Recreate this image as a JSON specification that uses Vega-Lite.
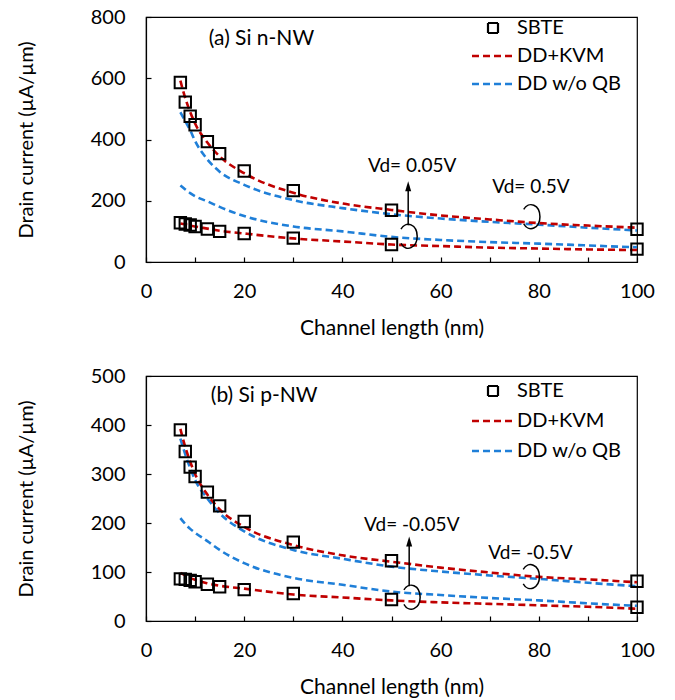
{
  "$schema": "https://vega.github.io/schema/vega-lite/v6.json",
  "padding": {"left": 15, "top": 6, "right": 5, "bottom": 0},
  "spacing": 26,
  "config": {
    "font": "Lato",
    "view": {"stroke": "black", "strokeWidth": 1.2},
    "axis": {"grid": false, "domainColor": "black", "domainWidth": 1.2, "tickColor": "black", "tickWidth": 1.2, "tickSize": -5, "labelFont": "Lato", "labelFontSize": 20, "labelColor": "black", "labelFlush": false, "labelOverlap": false, "titleFont": "Lato", "titleFontWeight": "normal", "titleColor": "black"},
    "axisX": {"labelPadding": 24, "titlePadding": 16, "titleFontSize": 21},
    "axisY": {"labelPadding": 26, "titlePadding": 54, "titleFontSize": 20},
    "legend": {"padding": 0}
  },
  "resolve": {"scale": {"color": "independent"}, "legend": {"color": "independent"}},
  "datasets": {
    "a_pts": [
      {"L": 7, "I": 586, "series": "SBTE", "vd": "0.5"}, {"L": 8, "I": 522, "series": "SBTE", "vd": "0.5"}, {"L": 9, "I": 476, "series": "SBTE", "vd": "0.5"}, {"L": 10, "I": 448, "series": "SBTE", "vd": "0.5"}, {"L": 12.5, "I": 393, "series": "SBTE", "vd": "0.5"}, {"L": 15, "I": 354, "series": "SBTE", "vd": "0.5"}, {"L": 20, "I": 297, "series": "SBTE", "vd": "0.5"}, {"L": 30, "I": 233, "series": "SBTE", "vd": "0.5"}, {"L": 50, "I": 169, "series": "SBTE", "vd": "0.5"}, {"L": 100, "I": 107, "series": "SBTE", "vd": "0.5"},
      {"L": 7, "I": 128, "series": "SBTE", "vd": "0.05"}, {"L": 8, "I": 124, "series": "SBTE", "vd": "0.05"}, {"L": 9, "I": 121, "series": "SBTE", "vd": "0.05"}, {"L": 10, "I": 116, "series": "SBTE", "vd": "0.05"}, {"L": 12.5, "I": 108, "series": "SBTE", "vd": "0.05"}, {"L": 15, "I": 100, "series": "SBTE", "vd": "0.05"}, {"L": 20, "I": 93, "series": "SBTE", "vd": "0.05"}, {"L": 30, "I": 78, "series": "SBTE", "vd": "0.05"}, {"L": 50, "I": 57, "series": "SBTE", "vd": "0.05"}, {"L": 100, "I": 42, "series": "SBTE", "vd": "0.05"}
    ],
    "a_lines": [
      {"L": 7, "I": 489, "series": "DD w/o QB", "vd": "0.5"}, {"L": 8, "I": 460, "series": "DD w/o QB", "vd": "0.5"}, {"L": 9, "I": 430, "series": "DD w/o QB", "vd": "0.5"}, {"L": 10, "I": 395, "series": "DD w/o QB", "vd": "0.5"}, {"L": 12.5, "I": 335, "series": "DD w/o QB", "vd": "0.5"}, {"L": 15, "I": 295, "series": "DD w/o QB", "vd": "0.5"}, {"L": 20, "I": 252, "series": "DD w/o QB", "vd": "0.5"}, {"L": 30, "I": 202, "series": "DD w/o QB", "vd": "0.5"}, {"L": 40, "I": 176, "series": "DD w/o QB", "vd": "0.5"}, {"L": 50, "I": 156, "series": "DD w/o QB", "vd": "0.5"}, {"L": 60, "I": 142, "series": "DD w/o QB", "vd": "0.5"}, {"L": 70, "I": 131, "series": "DD w/o QB", "vd": "0.5"}, {"L": 80, "I": 122, "series": "DD w/o QB", "vd": "0.5"}, {"L": 90, "I": 112, "series": "DD w/o QB", "vd": "0.5"}, {"L": 100, "I": 103, "series": "DD w/o QB", "vd": "0.5"},
      {"L": 7, "I": 250, "series": "DD w/o QB", "vd": "0.05"}, {"L": 8, "I": 237, "series": "DD w/o QB", "vd": "0.05"}, {"L": 9, "I": 225, "series": "DD w/o QB", "vd": "0.05"}, {"L": 10, "I": 215, "series": "DD w/o QB", "vd": "0.05"}, {"L": 12.5, "I": 198, "series": "DD w/o QB", "vd": "0.05"}, {"L": 15, "I": 180, "series": "DD w/o QB", "vd": "0.05"}, {"L": 20, "I": 150, "series": "DD w/o QB", "vd": "0.05"}, {"L": 30, "I": 116, "series": "DD w/o QB", "vd": "0.05"}, {"L": 40, "I": 100, "series": "DD w/o QB", "vd": "0.05"}, {"L": 50, "I": 82, "series": "DD w/o QB", "vd": "0.05"}, {"L": 60, "I": 72, "series": "DD w/o QB", "vd": "0.05"}, {"L": 70, "I": 65, "series": "DD w/o QB", "vd": "0.05"}, {"L": 80, "I": 60, "series": "DD w/o QB", "vd": "0.05"}, {"L": 90, "I": 54, "series": "DD w/o QB", "vd": "0.05"}, {"L": 100, "I": 48, "series": "DD w/o QB", "vd": "0.05"},
      {"L": 7, "I": 592, "series": "DD+KVM", "vd": "0.5"}, {"L": 8, "I": 535, "series": "DD+KVM", "vd": "0.5"}, {"L": 9, "I": 490, "series": "DD+KVM", "vd": "0.5"}, {"L": 10, "I": 452, "series": "DD+KVM", "vd": "0.5"}, {"L": 12.5, "I": 390, "series": "DD+KVM", "vd": "0.5"}, {"L": 15, "I": 345, "series": "DD+KVM", "vd": "0.5"}, {"L": 20, "I": 290, "series": "DD+KVM", "vd": "0.5"}, {"L": 30, "I": 226, "series": "DD+KVM", "vd": "0.5"}, {"L": 40, "I": 191, "series": "DD+KVM", "vd": "0.5"}, {"L": 50, "I": 170, "series": "DD+KVM", "vd": "0.5"}, {"L": 60, "I": 152, "series": "DD+KVM", "vd": "0.5"}, {"L": 70, "I": 139, "series": "DD+KVM", "vd": "0.5"}, {"L": 80, "I": 127, "series": "DD+KVM", "vd": "0.5"}, {"L": 90, "I": 119, "series": "DD+KVM", "vd": "0.5"}, {"L": 100, "I": 112, "series": "DD+KVM", "vd": "0.5"},
      {"L": 7, "I": 126, "series": "DD+KVM", "vd": "0.05"}, {"L": 8, "I": 123, "series": "DD+KVM", "vd": "0.05"}, {"L": 9, "I": 119, "series": "DD+KVM", "vd": "0.05"}, {"L": 10, "I": 116, "series": "DD+KVM", "vd": "0.05"}, {"L": 12.5, "I": 109, "series": "DD+KVM", "vd": "0.05"}, {"L": 15, "I": 102, "series": "DD+KVM", "vd": "0.05"}, {"L": 20, "I": 93, "series": "DD+KVM", "vd": "0.05"}, {"L": 30, "I": 77, "series": "DD+KVM", "vd": "0.05"}, {"L": 40, "I": 67, "series": "DD+KVM", "vd": "0.05"}, {"L": 50, "I": 57, "series": "DD+KVM", "vd": "0.05"}, {"L": 60, "I": 52, "series": "DD+KVM", "vd": "0.05"}, {"L": 70, "I": 47, "series": "DD+KVM", "vd": "0.05"}, {"L": 80, "I": 44, "series": "DD+KVM", "vd": "0.05"}, {"L": 90, "I": 41, "series": "DD+KVM", "vd": "0.05"}, {"L": 100, "I": 39, "series": "DD+KVM", "vd": "0.05"}
    ],
    "a_title": [{"L": 12.8, "I": 728, "label": "(a) Si n-NW"}],
    "a_text": [
      {"L": 45.2, "I": 315, "label": "Vd= 0.05V"},
      {"L": 70.5, "I": 245, "label": "Vd= 0.5V"}
    ],
    "a_arrow": [{"L": 53.4, "I": 120, "I2": 247}],
    "a_head": [{"L": 53.4, "I": 247}],
    "a_arcs": [{"L": 53.4, "I": 84}, {"L": 78.4, "I": 148}],
    "b_pts": [
      {"L": 7, "I": 390, "series": "SBTE", "vd": "-0.5"}, {"L": 8, "I": 346, "series": "SBTE", "vd": "-0.5"}, {"L": 9, "I": 314, "series": "SBTE", "vd": "-0.5"}, {"L": 10, "I": 295, "series": "SBTE", "vd": "-0.5"}, {"L": 12.5, "I": 263, "series": "SBTE", "vd": "-0.5"}, {"L": 15, "I": 235, "series": "SBTE", "vd": "-0.5"}, {"L": 20, "I": 203, "series": "SBTE", "vd": "-0.5"}, {"L": 30, "I": 161, "series": "SBTE", "vd": "-0.5"}, {"L": 50, "I": 123, "series": "SBTE", "vd": "-0.5"}, {"L": 100, "I": 81, "series": "SBTE", "vd": "-0.5"},
      {"L": 7, "I": 86, "series": "SBTE", "vd": "-0.05"}, {"L": 8, "I": 85, "series": "SBTE", "vd": "-0.05"}, {"L": 9, "I": 83, "series": "SBTE", "vd": "-0.05"}, {"L": 10, "I": 80, "series": "SBTE", "vd": "-0.05"}, {"L": 12.5, "I": 75, "series": "SBTE", "vd": "-0.05"}, {"L": 15, "I": 70, "series": "SBTE", "vd": "-0.05"}, {"L": 20, "I": 64, "series": "SBTE", "vd": "-0.05"}, {"L": 30, "I": 56, "series": "SBTE", "vd": "-0.05"}, {"L": 50, "I": 44, "series": "SBTE", "vd": "-0.05"}, {"L": 100, "I": 28, "series": "SBTE", "vd": "-0.05"}
    ],
    "b_lines": [
      {"L": 7, "I": 372, "series": "DD w/o QB", "vd": "-0.5"}, {"L": 8, "I": 340, "series": "DD w/o QB", "vd": "-0.5"}, {"L": 9, "I": 312, "series": "DD w/o QB", "vd": "-0.5"}, {"L": 10, "I": 288, "series": "DD w/o QB", "vd": "-0.5"}, {"L": 12.5, "I": 250, "series": "DD w/o QB", "vd": "-0.5"}, {"L": 15, "I": 220, "series": "DD w/o QB", "vd": "-0.5"}, {"L": 20, "I": 183, "series": "DD w/o QB", "vd": "-0.5"}, {"L": 30, "I": 145, "series": "DD w/o QB", "vd": "-0.5"}, {"L": 40, "I": 127, "series": "DD w/o QB", "vd": "-0.5"}, {"L": 50, "I": 111, "series": "DD w/o QB", "vd": "-0.5"}, {"L": 60, "I": 101, "series": "DD w/o QB", "vd": "-0.5"}, {"L": 70, "I": 93, "series": "DD w/o QB", "vd": "-0.5"}, {"L": 80, "I": 86, "series": "DD w/o QB", "vd": "-0.5"}, {"L": 90, "I": 78, "series": "DD w/o QB", "vd": "-0.5"}, {"L": 100, "I": 71, "series": "DD w/o QB", "vd": "-0.5"},
      {"L": 7, "I": 210, "series": "DD w/o QB", "vd": "-0.05"}, {"L": 8, "I": 198, "series": "DD w/o QB", "vd": "-0.05"}, {"L": 9, "I": 188, "series": "DD w/o QB", "vd": "-0.05"}, {"L": 10, "I": 180, "series": "DD w/o QB", "vd": "-0.05"}, {"L": 12.5, "I": 163, "series": "DD w/o QB", "vd": "-0.05"}, {"L": 15, "I": 145, "series": "DD w/o QB", "vd": "-0.05"}, {"L": 20, "I": 118, "series": "DD w/o QB", "vd": "-0.05"}, {"L": 30, "I": 88, "series": "DD w/o QB", "vd": "-0.05"}, {"L": 40, "I": 74, "series": "DD w/o QB", "vd": "-0.05"}, {"L": 50, "I": 60, "series": "DD w/o QB", "vd": "-0.05"}, {"L": 60, "I": 53, "series": "DD w/o QB", "vd": "-0.05"}, {"L": 70, "I": 47, "series": "DD w/o QB", "vd": "-0.05"}, {"L": 80, "I": 42, "series": "DD w/o QB", "vd": "-0.05"}, {"L": 90, "I": 36, "series": "DD w/o QB", "vd": "-0.05"}, {"L": 100, "I": 31, "series": "DD w/o QB", "vd": "-0.05"},
      {"L": 7, "I": 392, "series": "DD+KVM", "vd": "-0.5"}, {"L": 8, "I": 355, "series": "DD+KVM", "vd": "-0.5"}, {"L": 9, "I": 325, "series": "DD+KVM", "vd": "-0.5"}, {"L": 10, "I": 300, "series": "DD+KVM", "vd": "-0.5"}, {"L": 12.5, "I": 258, "series": "DD+KVM", "vd": "-0.5"}, {"L": 15, "I": 228, "series": "DD+KVM", "vd": "-0.5"}, {"L": 20, "I": 192, "series": "DD+KVM", "vd": "-0.5"}, {"L": 30, "I": 155, "series": "DD+KVM", "vd": "-0.5"}, {"L": 40, "I": 134, "series": "DD+KVM", "vd": "-0.5"}, {"L": 50, "I": 121, "series": "DD+KVM", "vd": "-0.5"}, {"L": 60, "I": 109, "series": "DD+KVM", "vd": "-0.5"}, {"L": 70, "I": 99, "series": "DD+KVM", "vd": "-0.5"}, {"L": 80, "I": 90, "series": "DD+KVM", "vd": "-0.5"}, {"L": 90, "I": 85, "series": "DD+KVM", "vd": "-0.5"}, {"L": 100, "I": 79, "series": "DD+KVM", "vd": "-0.5"},
      {"L": 7, "I": 98, "series": "DD+KVM", "vd": "-0.05"}, {"L": 8, "I": 93, "series": "DD+KVM", "vd": "-0.05"}, {"L": 9, "I": 88, "series": "DD+KVM", "vd": "-0.05"}, {"L": 10, "I": 84, "series": "DD+KVM", "vd": "-0.05"}, {"L": 12.5, "I": 77, "series": "DD+KVM", "vd": "-0.05"}, {"L": 15, "I": 72, "series": "DD+KVM", "vd": "-0.05"}, {"L": 20, "I": 66, "series": "DD+KVM", "vd": "-0.05"}, {"L": 30, "I": 54, "series": "DD+KVM", "vd": "-0.05"}, {"L": 40, "I": 48, "series": "DD+KVM", "vd": "-0.05"}, {"L": 50, "I": 42, "series": "DD+KVM", "vd": "-0.05"}, {"L": 60, "I": 38, "series": "DD+KVM", "vd": "-0.05"}, {"L": 70, "I": 35, "series": "DD+KVM", "vd": "-0.05"}, {"L": 80, "I": 32, "series": "DD+KVM", "vd": "-0.05"}, {"L": 90, "I": 29, "series": "DD+KVM", "vd": "-0.05"}, {"L": 100, "I": 25, "series": "DD+KVM", "vd": "-0.05"}
    ],
    "b_title": [{"L": 13.2, "I": 459, "label": "(b) Si p-NW"}],
    "b_text": [
      {"L": 44.4, "I": 196, "label": "Vd= -0.05V"},
      {"L": 69.7, "I": 138, "label": "Vd= -0.5V"}
    ],
    "b_arrow": [{"L": 53.6, "I": 71, "I2": 162}],
    "b_head": [{"L": 53.6, "I": 162}],
    "b_arcs": [{"L": 54, "I": 48.6}, {"L": 78.3, "I": 90.6}]
  },
  "vconcat": [
    {
      "width": 491, "height": 245,
      "layer": [
        {
          "data": {"name": "a_lines"},
          "mark": {"type": "line", "strokeDash": [7, 4], "strokeWidth": 2.6, "interpolate": "monotone"},
          "encoding": {
            "x": {"field": "L", "type": "quantitative", "scale": {"domain": [0, 100], "nice": false}, "axis": {"title": "Channel length (nm)", "values": [0,10,20,30,40,50,60,70,80,90,100], "labelExpr": "datum.value % 20 === 0 ? datum.label : ''"}},
            "y": {"field": "I", "type": "quantitative", "scale": {"domain": [0, 800], "nice": false}, "axis": {"title": "Drain current (µA/µm)", "values": [0,100,200,300,400,500,600,700,800], "labelExpr": "datum.value % 200 === 0 ? datum.label : ''"}},
            "color": {"field": "series", "type": "nominal", "scale": {"domain": ["SBTE", "DD+KVM", "DD w/o QB"], "range": ["black", "#c00000", "#1f7fd8"]},
              "legend": {"title": null, "orient": "none", "legendX": 326, "legendY": 1, "labelFontSize": 20, "labelFont": "Lato", "labelColor": "black", "symbolSize": 1764, "symbolType": "stroke", "symbolStrokeWidth": 2.6, "symbolDash": [7, 4], "labelOffset": 3, "rowPadding": 8,
                "encode": {
                  "symbols": {"update": {"x": {"value": 21}, "shape": {"signal": "datum.value === 'SBTE' ? 'square' : 'stroke'"}, "size": {"signal": "datum.value === 'SBTE' ? 100 : 1764"}, "strokeDash": {"signal": "datum.value === 'SBTE' ? [1,0] : [7,4]"}, "strokeWidth": {"signal": "datum.value === 'SBTE' ? 2.2 : 2.6"}}},
                  "labels": {"update": {"x": {"value": 45}}}
                }}},
            "detail": {"field": "vd"}
          }
        },
        {
          "data": {"name": "a_pts"},
          "mark": {"type": "point", "shape": "square", "filled": false, "size": 130, "strokeWidth": 2, "opacity": 1},
          "encoding": {
            "x": {"field": "L", "type": "quantitative"},
            "y": {"field": "I", "type": "quantitative"},
            "color": {"field": "series", "type": "nominal"}
          }
        },
        {
          "data": {"name": "a_title"},
          "mark": {"type": "text", "align": "left", "baseline": "middle", "fontSize": 21, "font": "Lato", "color": "black"},
          "encoding": {"x": {"field": "L", "type": "quantitative"}, "y": {"field": "I", "type": "quantitative"}, "text": {"field": "label"}}
        },
        {
          "data": {"name": "a_text"},
          "mark": {"type": "text", "align": "left", "baseline": "middle", "fontSize": 19, "font": "Lato", "color": "black"},
          "encoding": {"x": {"field": "L", "type": "quantitative"}, "y": {"field": "I", "type": "quantitative"}, "text": {"field": "label"}}
        },
        {
          "data": {"name": "a_arrow"},
          "mark": {"type": "rule", "color": "black", "strokeWidth": 1.5},
          "encoding": {"x": {"field": "L", "type": "quantitative"}, "y": {"field": "I", "type": "quantitative"}, "y2": {"field": "I2"}}
        },
        {
          "data": {"name": "a_head"},
          "mark": {"type": "point", "shape": "M0,-1L0.6,1L-0.6,1Z", "filled": true, "color": "black", "size": 100, "opacity": 1},
          "encoding": {"x": {"field": "L", "type": "quantitative"}, "y": {"field": "I", "type": "quantitative"}}
        },
        {
          "data": {"name": "a_arcs"},
          "mark": {"type": "point", "shape": "M-0.6,-0.6A0.75,1,0,1,1,-0.6,0.6", "filled": false, "color": "black", "strokeWidth": 1.5, "size": 576, "opacity": 1},
          "encoding": {"x": {"field": "L", "type": "quantitative"}, "y": {"field": "I", "type": "quantitative"}}
        }
      ]
    },
    {
      "width": 491, "height": 245,
      "layer": [
        {
          "data": {"name": "b_lines"},
          "mark": {"type": "line", "strokeDash": [7, 4], "strokeWidth": 2.6, "interpolate": "monotone"},
          "encoding": {
            "x": {"field": "L", "type": "quantitative", "scale": {"domain": [0, 100], "nice": false}, "axis": {"title": "Channel length (nm)", "values": [0,10,20,30,40,50,60,70,80,90,100], "labelExpr": "datum.value % 20 === 0 ? datum.label : ''"}},
            "y": {"field": "I", "type": "quantitative", "scale": {"domain": [0, 500], "nice": false}, "axis": {"title": "Drain current (µA/µm)", "values": [0,50,100,150,200,250,300,350,400,450,500], "labelExpr": "datum.value % 100 === 0 ? datum.label : ''"}},
            "color": {"field": "series", "type": "nominal", "scale": {"domain": ["SBTE", "DD+KVM", "DD w/o QB"], "range": ["black", "#c00000", "#1f7fd8"]},
              "legend": {"title": null, "orient": "none", "legendX": 326, "legendY": 5, "labelFontSize": 20, "labelFont": "Lato", "labelColor": "black", "symbolSize": 1764, "symbolType": "stroke", "symbolStrokeWidth": 2.6, "symbolDash": [7, 4], "labelOffset": 3, "rowPadding": 10,
                "encode": {
                  "symbols": {"update": {"x": {"value": 21}, "shape": {"signal": "datum.value === 'SBTE' ? 'square' : 'stroke'"}, "size": {"signal": "datum.value === 'SBTE' ? 100 : 1764"}, "strokeDash": {"signal": "datum.value === 'SBTE' ? [1,0] : [7,4]"}, "strokeWidth": {"signal": "datum.value === 'SBTE' ? 2.2 : 2.6"}}},
                  "labels": {"update": {"x": {"value": 45}}}
                }}},
            "detail": {"field": "vd"}
          }
        },
        {
          "data": {"name": "b_pts"},
          "mark": {"type": "point", "shape": "square", "filled": false, "size": 130, "strokeWidth": 2, "opacity": 1},
          "encoding": {
            "x": {"field": "L", "type": "quantitative"},
            "y": {"field": "I", "type": "quantitative"},
            "color": {"field": "series", "type": "nominal"}
          }
        },
        {
          "data": {"name": "b_title"},
          "mark": {"type": "text", "align": "left", "baseline": "middle", "fontSize": 21, "font": "Lato", "color": "black"},
          "encoding": {"x": {"field": "L", "type": "quantitative"}, "y": {"field": "I", "type": "quantitative"}, "text": {"field": "label"}}
        },
        {
          "data": {"name": "b_text"},
          "mark": {"type": "text", "align": "left", "baseline": "middle", "fontSize": 19, "font": "Lato", "color": "black"},
          "encoding": {"x": {"field": "L", "type": "quantitative"}, "y": {"field": "I", "type": "quantitative"}, "text": {"field": "label"}}
        },
        {
          "data": {"name": "b_arrow"},
          "mark": {"type": "rule", "color": "black", "strokeWidth": 1.5},
          "encoding": {"x": {"field": "L", "type": "quantitative"}, "y": {"field": "I", "type": "quantitative"}, "y2": {"field": "I2"}}
        },
        {
          "data": {"name": "b_head"},
          "mark": {"type": "point", "shape": "M0,-1L0.6,1L-0.6,1Z", "filled": true, "color": "black", "size": 100, "opacity": 1},
          "encoding": {"x": {"field": "L", "type": "quantitative"}, "y": {"field": "I", "type": "quantitative"}}
        },
        {
          "data": {"name": "b_arcs"},
          "mark": {"type": "point", "shape": "M-0.6,-0.6A0.75,1,0,1,1,-0.6,0.6", "filled": false, "color": "black", "strokeWidth": 1.5, "size": 576, "opacity": 1},
          "encoding": {"x": {"field": "L", "type": "quantitative"}, "y": {"field": "I", "type": "quantitative"}}
        }
      ]
    }
  ]
}
